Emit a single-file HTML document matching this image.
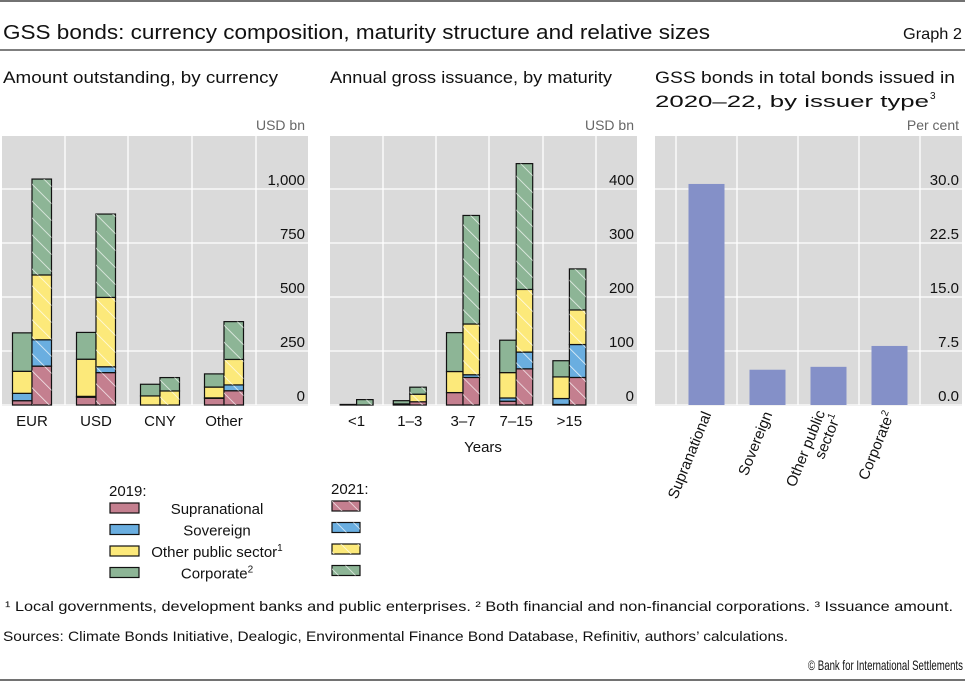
<!DOCTYPE html>
<html><head><meta charset="utf-8">
<style>
html,body{margin:0;padding:0;background:#fff;}
svg{display:block;font-family:"Liberation Sans",sans-serif;}
</style></head>
<body>
<svg id="c" width="965" height="682" viewBox="0 0 965 682" xmlns="http://www.w3.org/2000/svg">
<defs>
<pattern id="hatch" patternUnits="userSpaceOnUse" width="12" height="12" patternTransform="rotate(-45)">
<rect width="12" height="12" fill="none"/>
<line x1="0" y1="0" x2="0" y2="12" stroke="#fff" stroke-width="1.6" stroke-opacity="0.8"/>
</pattern>
</defs>
<line x1="0" y1="1" x2="965" y2="1" stroke="#444" stroke-width="1.5"/>
<text x="3" y="39" font-size="20" textLength="707" lengthAdjust="spacingAndGlyphs" fill="#111">GSS bonds: currency composition, maturity structure and relative sizes</text>
<text x="903" y="39" font-size="16" textLength="59" lengthAdjust="spacingAndGlyphs" fill="#111">Graph 2</text>
<line x1="0" y1="50" x2="965" y2="50" stroke="#555" stroke-width="1.5"/>
<text x="3" y="83" font-size="16.5" textLength="275" lengthAdjust="spacingAndGlyphs" fill="#111">Amount outstanding, by currency</text>
<text x="330" y="83" font-size="16.5" textLength="282" lengthAdjust="spacingAndGlyphs" fill="#111">Annual gross issuance, by maturity</text>
<text x="655" y="83" font-size="16.5" textLength="300" lengthAdjust="spacingAndGlyphs" fill="#111">GSS bonds in total bonds issued in</text>
<text x="655" y="107" font-size="16.5" textLength="274" lengthAdjust="spacingAndGlyphs" fill="#111">2020–22, by issuer type</text>
<text x="930" y="99" font-size="10" fill="#111">3</text>
<g id="p1"></g>
<g id="p2"></g>
<g id="p3"></g>
<g id="legend"></g>
<text x="5" y="611" font-size="14" textLength="948" lengthAdjust="spacingAndGlyphs" fill="#111">¹  Local governments, development banks and public enterprises.   ²  Both financial and non-financial corporations.   ³  Issuance amount.</text>
<text x="3" y="641" font-size="14" textLength="785" lengthAdjust="spacingAndGlyphs" fill="#111">Sources: Climate Bonds Initiative, Dealogic, Environmental Finance Bond Database, Refinitiv, authors’ calculations.</text>
<text x="808" y="670" font-size="14" textLength="155" lengthAdjust="spacingAndGlyphs" fill="#111">© Bank for International Settlements</text>
<line x1="0" y1="680" x2="965" y2="680" stroke="#444" stroke-width="1.5"/>
</svg>
<script>
// Panel 1: amount outstanding by currency (USD bn), stacked: supra, sov, ops, corp
const currencies = ["EUR", "USD", "CNY", "Other"];
const cur2019Supra = [20, 36, 0, 31];
const cur2019Sov = [34, 4, 0, 2];
const cur2019Ops = [102, 172, 42, 50];
const cur2019Corp = [178, 124, 54, 61];
const cur2021Supra = [180, 150, 0, 66];
const cur2021Sov = [122, 27, 0, 27];
const cur2021Ops = [300, 321, 65, 118];
const cur2021Corp = [444, 386, 62, 175];
const curTicks = [0, 250, 500, 750, 1000];
const curTickLabels = ["0", "250", "500", "750", "1,000"];

// Panel 2: annual gross issuance by maturity (USD bn)
const maturities = ["<1", "1–3", "3–7", "7–15", ">15"];
const mat2019Supra = [0, 0, 23, 7, 1];
const mat2019Sov = [0, 0, 0, 6, 11];
const mat2019Ops = [0, 2, 39, 47, 40];
const mat2019Corp = [1, 6, 72, 60, 30];
const mat2021Supra = [0, 6, 51, 67, 51];
const mat2021Sov = [0, 0, 5, 31, 61];
const mat2021Ops = [0, 14, 94, 116, 64];
const mat2021Corp = [10, 13, 201, 233, 76];
const matTicks = [0, 100, 200, 300, 400];
const matTickLabels = ["0", "100", "200", "300", "400"];

// Panel 3: GSS share by issuer type (per cent)
const issuerTypes = ["Supranational", "Sovereign", "Other public sector", "Corporate"];
const issuerShare = [30.7, 4.9, 5.3, 8.2];
const shareTicks = [0, 7.5, 15, 22.5, 30];
const shareTickLabels = ["0.0", "7.5", "15.0", "22.5", "30.0"];

const colors = ["#c47f8f", "#6aaee0", "#fce97a", "#8db596"];
const seriesNames = ["supranational", "sovereign", "other-public-sector", "corporate"];
const NS = "http://www.w3.org/2000/svg";
function mk(tag, attrs, parent) {
  const e = document.createElementNS(NS, tag);
  for (const k in attrs) e.setAttribute(k, attrs[k]);
  parent.appendChild(e);
  return e;
}
function txt(parent, x, y, s, size, anchor, fill) {
  const t = mk("text", {x: x, y: y, "font-size": size, "text-anchor": anchor || "start", fill: fill || "#111"}, parent);
  t.textContent = s;
  return t;
}

function panelFrame(g, left, right, top, zeroY, vmax, ticks, labels, vGrid, unit) {
  const y = v => zeroY - v / vmax * (zeroY - (zeroY - 216));
  const bg = mk("rect", {x: left, y: top, width: right - left, height: zeroY - top + 1, fill: "#dadada"}, g);
  
  
  ticks.forEach((t, i) => {
    const gl = mk("line", {x1: left, x2: right, y1: y(t), y2: y(t), stroke: "#fff", "stroke-width": 1.3}, g);
    
    
    const tl = txt(g, right - 3, y(t) - 4, labels[i], 15, "end");
    
    
  });
  vGrid.forEach(x => {
    const vl = mk("line", {x1: x, x2: x, y1: top, y2: zeroY, stroke: "#fff", "stroke-width": 1.3}, g);
    
    
  });
  const u = txt(g, right - 3, top - 6, unit, 14, "end", "#666");
  
  
  return y;
}

function stacked(g, cats, s19, s21, left, catW, barW, yf, vmax) {
  cats.forEach((c, i) => {
    const cx = left + catW * (i + 0.5);
    [s19, s21].forEach((ser, k) => {
      const x = k === 0 ? cx - barW : cx;
      let base = 0;
      ser.forEach((arr, si) => {
        const v = arr[i];
        if (v <= 0) return;
        const y0 = yf(base), y1 = yf(base + v);
        const r = mk("rect", {x: x, y: y1, width: barW, height: y0 - y1, fill: colors[si], stroke: "#111", "stroke-width": 1.2}, g);
        
        
        if (k === 1) {
          const h = mk("rect", {x: x, y: y1, width: barW, height: y0 - y1, fill: "url(#hatch)"}, g);
          
          
        }
        base += v;
      });
    });
    const lbl = txt(g, cx, 426, c, 15, "middle");
    
    
  });
}

// Panel 1
const g1 = document.getElementById("p1");
const y1 = panelFrame(g1, 2, 308, 136, 405, 1000, curTicks, curTickLabels, [65, 128, 192, 256], "USD bn");
stacked(g1, currencies, [cur2019Supra, cur2019Sov, cur2019Ops, cur2019Corp], [cur2021Supra, cur2021Sov, cur2021Ops, cur2021Corp], 0, 64, 19.5, y1);

// Panel 2
const g2 = document.getElementById("p2");
const y2 = panelFrame(g2, 330, 637, 136, 405, 400, matTicks, matTickLabels, [383, 436, 489, 543, 596], "USD bn");
stacked(g2, maturities, [mat2019Supra, mat2019Sov, mat2019Ops, mat2019Corp], [mat2021Supra, mat2021Sov, mat2021Ops, mat2021Corp], 330, 53.2, 16.5, y2);
const yrs = txt(g2, 483, 452, "Years", 15, "middle");



// Panel 3
const g3 = document.getElementById("p3");
const y3 = panelFrame(g3, 655, 962, 136, 405, 30, shareTicks, shareTickLabels, [676, 737, 798, 859, 920], "Per cent");
issuerTypes.forEach((c, i) => {
  const cx = 676 + 61 * (i + 0.5);
  const b = mk("rect", {x: cx - 18, y: y3(issuerShare[i]), width: 36, height: 405 - y3(issuerShare[i]), fill: "#8490c8"}, g3);
  
  
});
const rotLabels = [["Supranational", ""], ["Sovereign", ""], ["Other public", "sector"], ["Corporate", ""]];
rotLabels.forEach((l, i) => {
  const cx = 676 + 61 * (i + 0.5);
  const t = mk("text", {transform: "translate(" + (cx + 5) + ",414) rotate(-68)", "font-size": 15, "text-anchor": "end", fill: "#111"}, g3);
  
  
  if (l[1]) {
    const a = mk("tspan", {x: -2, dy: -8}, t); a.textContent = l[0];
    const b2 = mk("tspan", {x: 0, dy: 16}, t); b2.textContent = l[1];
    const s = mk("tspan", {"font-size": 10, dy: -6}, t); s.textContent = "1";
  } else {
    t.textContent = l[0];
    if (i === 3) { const s = mk("tspan", {"font-size": 10, dy: -6}, t); s.textContent = "2"; }
  }
});

// Legend
const lg = document.getElementById("legend");
txt(lg, 109, 496, "2019:", 15);
txt(lg, 331, 494, "2021:", 15);
const legLabels = ["Supranational", "Sovereign", "Other public sector", "Corporate"];
const legSup = ["", "", "1", "2"];
legLabels.forEach((l, i) => {
  const yy = 503 + i * 21.5;
  const s1 = mk("rect", {x: 110, y: yy, width: 29, height: 10, fill: colors[i], stroke: "#111", "stroke-width": 1.2}, lg);
  
  
  const s2 = mk("rect", {x: 332, y: yy - 2, width: 28, height: 10, fill: colors[i], stroke: "#111", "stroke-width": 1.2}, lg);
  
  
  const h = mk("rect", {x: 332, y: yy - 2, width: 28, height: 10, fill: "url(#hatch)"}, lg);
  
  
  const t = txt(lg, 217, yy + 11, l, 15, "middle");
  
  
  if (legSup[i]) { const s = mk("tspan", {"font-size": 10, dy: -6}, t); s.textContent = legSup[i]; }
});
</script>
</body></html>
